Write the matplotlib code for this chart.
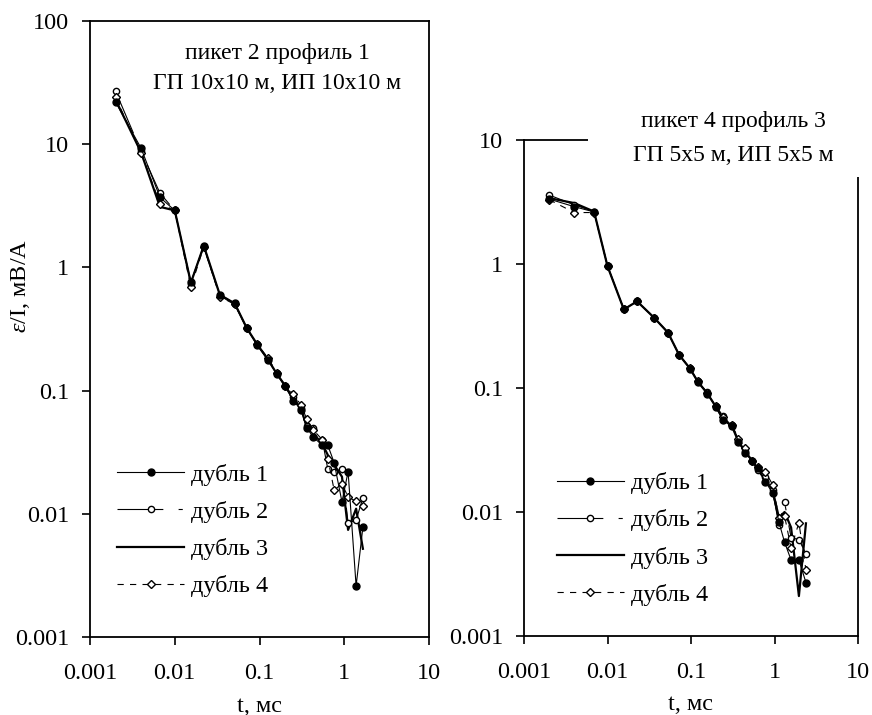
import matplotlib
matplotlib.use("Agg")
import matplotlib.pyplot as plt
from matplotlib.patches import Rectangle

plt.rcParams['font.family'] = ['Liberation Serif', 'DejaVu Serif']
plt.rcParams['mathtext.fontset'] = 'custom'
plt.rcParams['mathtext.rm'] = 'Liberation Serif'
plt.rcParams['mathtext.it'] = 'Liberation Serif:italic'
plt.rcParams['lines.scale_dashes'] = False

# ---- data: left panel (пикет 2 профиль 1)
t_left = [0.002, 0.004, 0.0067, 0.01, 0.0155, 0.022, 0.034, 0.051, 0.071, 0.093,
          0.125, 0.16, 0.2, 0.25, 0.31, 0.36, 0.43, 0.55, 0.64, 0.76, 0.94, 1.11, 1.38, 1.66]
d1_left = [22, 9.3, 3.7, 2.9, 0.76, 1.5, 0.6, 0.51, 0.32, 0.235, 0.178, 0.136, 0.108, 0.083,
           0.07, 0.05, 0.042, 0.036, 0.036, 0.026, 0.0125, 0.022, 0.0026, 0.0078]
d2_left = [27, 8.8, 4.0, 2.9, 0.74, 1.47, 0.59, 0.5, 0.32, 0.24, 0.18, 0.138, 0.11, 0.088,
           0.072, 0.052, 0.05, 0.04, 0.023, 0.022, 0.023, 0.0084, 0.0089, 0.0135]
d3_left = [23, 8.6, 3.1, 2.9, 0.75, 1.5, 0.6, 0.51, 0.32, 0.24, 0.18, 0.137, 0.11, 0.086,
           0.071, 0.051, 0.045, 0.037, 0.03, 0.025, 0.02, 0.0074, 0.011, 0.0052]
d4_left = [24, 8.5, 3.3, 2.9, 0.69, 1.47, 0.58, 0.5, 0.32, 0.24, 0.185, 0.14, 0.11, 0.094,
           0.076, 0.059, 0.048, 0.04, 0.028, 0.0156, 0.0175, 0.0137, 0.0126, 0.0115]

# ---- data: right panel (пикет 4 профиль 3)
t_right = [0.002, 0.004, 0.0069, 0.01, 0.0157, 0.0226, 0.036, 0.053, 0.072, 0.097, 0.121,
           0.156, 0.2, 0.24, 0.31, 0.37, 0.44, 0.54, 0.63, 0.78, 0.95, 1.13, 1.32, 1.58, 1.96, 2.38]
d1_right = [3.34, 2.9, 2.63, 0.96, 0.43, 0.5, 0.37, 0.278, 0.185, 0.143, 0.112, 0.09, 0.07,
            0.055, 0.049, 0.037, 0.03, 0.026, 0.0227, 0.0175, 0.0142, 0.0083, 0.0057, 0.0041, 0.0041, 0.0027]
d2_right = [3.6, 3.0, 2.65, 0.97, 0.43, 0.5, 0.37, 0.28, 0.186, 0.145, 0.113, 0.092, 0.071,
            0.06, 0.05, 0.038, 0.031, 0.026, 0.022, 0.019, 0.015, 0.0078, 0.012, 0.0062, 0.006, 0.0046]
d3_right = [3.4, 3.1, 2.65, 0.96, 0.43, 0.5, 0.37, 0.28, 0.185, 0.144, 0.112, 0.091, 0.07,
            0.057, 0.049, 0.037, 0.031, 0.026, 0.022, 0.018, 0.015, 0.009, 0.01, 0.0075, 0.0021, 0.0081]
d4_right = [3.3, 2.6, 2.6, 0.96, 0.43, 0.5, 0.37, 0.28, 0.186, 0.144, 0.113, 0.091, 0.071,
            0.058, 0.05, 0.039, 0.033, 0.026, 0.023, 0.021, 0.0166, 0.009, 0.0093, 0.0051, 0.0082, 0.0034]

labels = ['дубль 1', 'дубль 2', 'дубль 3', 'дубль 4']
x_ticks = [0.001, 0.01, 0.1, 1, 10]
x_ticklabels = ['0.001', '0.01', '0.1', '1', '10']

FS = 17.5

fig = plt.figure(figsize=(8.72, 7.15), dpi=100)
ax1 = fig.add_axes([90/872, 78/715, 339/872, 616/715])
ax2 = fig.add_axes([524/872, 79/715, 334/872, 496/715])


def draw(ax, t, d1, d2, d3, d4):
    h1, = ax.plot(t, d1, color='black', lw=0.8, marker='o', ms=5, mfc='black', mec='black', zorder=6)
    h2, = ax.plot(t, d2, color='black', lw=0.8, marker='o', ms=4.5, mfc='white', mec='black',
                  mew=1.0, dashes=(33, 11, 3, 11), zorder=4)
    h3, = ax.plot(t, d3, color='black', lw=1.6, zorder=3)
    h4, = ax.plot(t, d4, color='black', lw=0.8, marker='D', ms=4, mfc='white', mec='black',
                  mew=1.0, dashes=(4.5, 4.5), zorder=5)
    ax.set_xscale('log')
    ax.set_yscale('log')
    ax.set_xlim(0.001, 10)
    ax.set_xticks(x_ticks)
    ax.set_xticklabels(x_ticklabels)
    ax.minorticks_off()
    ax.tick_params(axis='both', direction='out', length=6, width=1.2, labelsize=FS)
    ax.tick_params(axis='x', pad=13)
    ax.tick_params(axis='y', pad=9)
    for s in ax.spines.values():
        s.set_linewidth(1.3)
    ax.set_xlabel('t, мс', fontsize=FS, labelpad=8)
    return [h1, h2, h3, h4]


hl = draw(ax1, t_left, d1_left, d2_left, d3_left, d4_left)
ax1.set_ylim(0.001, 100)
ax1.set_yticks([0.001, 0.01, 0.1, 1, 10, 100])
ax1.set_yticklabels(['0.001', '0.01', '0.1', '1', '10', '100'])
ax1.minorticks_off()
ax1.text(0.552, 0.923, 'пикет 2 профиль 1\nГП 10x10 м, ИП 10x10 м', transform=ax1.transAxes,
         ha='center', va='center', fontsize=17, linespacing=1.55)
ax1.legend(hl, labels, loc='upper left', bbox_to_anchor=(0.08, 0.281), frameon=False,
           fontsize=FS, handlelength=2.75, handletextpad=0.3, labelspacing=0.62,
           borderpad=0, borderaxespad=0)

hr = draw(ax2, t_right, d1_right, d2_right, d3_right, d4_right)
ax2.set_ylim(0.001, 10)
ax2.set_yticks([0.001, 0.01, 0.1, 1, 10])
ax2.set_yticklabels(['0.001', '0.01', '0.1', '1', '10'])
ax2.minorticks_off()
ax2.tick_params(axis='y', pad=9)
# white text box of the annotation hides part of the frame
ax2.add_patch(Rectangle((0.192, 0.925), 1.0, 0.3, transform=ax2.transAxes, facecolor='white',
                        edgecolor='none', clip_on=False, zorder=7))
ax2.text(0.626, 1.003, 'пикет 4 профиль 3\nГП 5x5 м, ИП 5x5 м', transform=ax2.transAxes,
         ha='center', va='center', fontsize=17, linespacing=1.78, zorder=8)
ax2.legend(hr, labels, loc='upper left', bbox_to_anchor=(0.099, 0.330), frameon=False,
           fontsize=FS, handlelength=2.75, handletextpad=0.3, labelspacing=0.62,
           borderpad=0, borderaxespad=0)

fig.text(21/872, 1 - 286/715, '$ε$/I, мВ/А', rotation=90, ha='center', va='center', fontsize=FS)

fig.savefig('out.png', dpi=100)
